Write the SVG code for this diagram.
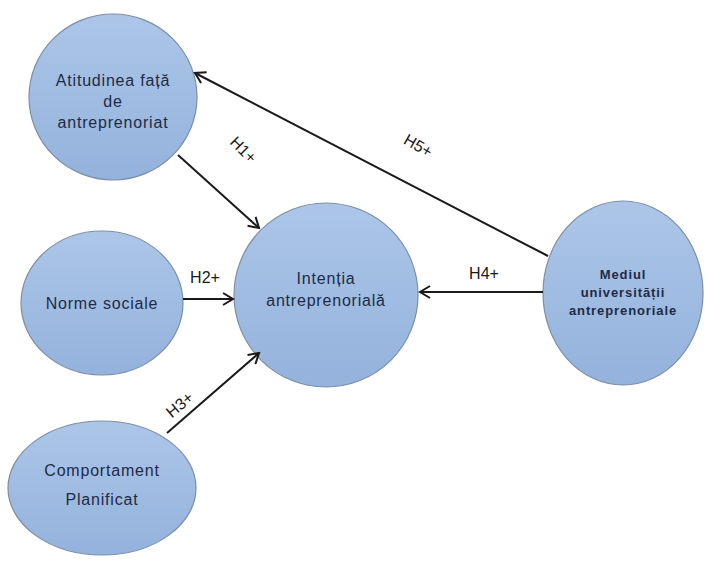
<svg xmlns="http://www.w3.org/2000/svg" width="705" height="566" viewBox="0 0 705 566">
<style>
.node ellipse{fill:url(#g);stroke:#7d8ea8;stroke-width:1.2}
.nt{font-family:"Liberation Sans",Arial,sans-serif;font-size:16px;letter-spacing:0.8px;fill:#1f2b45;text-anchor:middle}
.small{font-size:13px;letter-spacing:0.9px;font-weight:bold}
.conn line{stroke:#1a1a1a;stroke-width:2;marker-end:url(#arr)}
.lbl{font-family:"Liberation Sans",Arial,sans-serif;font-size:16px;fill:#1a1a1a;text-anchor:middle}
</style>
<defs>
<linearGradient id="g" x1="0" y1="0" x2="0" y2="1">
<stop offset="0" stop-color="#adc6e8"/>
<stop offset="1" stop-color="#93b2dc"/>
</linearGradient>
<marker id="arr" markerUnits="userSpaceOnUse" markerWidth="14" markerHeight="14" refX="12" refY="7" orient="auto" viewBox="0 0 14 14">
<path d="M2,1 L12,7 L2,13" fill="none" stroke="#1a1a1a" stroke-width="2"/>
</marker>
</defs>
<rect width="705" height="566" fill="#fff"/>
<g id="n-atitudinea" class="node">
<ellipse cx="113" cy="97" rx="84" ry="83"/>
<text class="nt" x="113" y="86">Atitudinea față</text>
<text class="nt" x="113" y="107">de</text>
<text class="nt" x="113" y="128">antreprenoriat</text>
</g>
<g id="n-norme" class="node">
<ellipse cx="102" cy="303" rx="81" ry="72"/>
<text class="nt" x="102" y="309">Norme sociale</text>
</g>
<g id="n-comportament" class="node">
<ellipse cx="102" cy="488" rx="94" ry="67"/>
<text class="nt" x="102" y="476">Comportament</text>
<text class="nt" x="102" y="505">Planificat</text>
</g>
<g id="n-intentia" class="node">
<ellipse cx="326" cy="295" rx="92" ry="92"/>
<text class="nt" x="326" y="284">Intenția</text>
<text class="nt" x="326" y="306">antreprenorială</text>
</g>
<g id="n-mediul" class="node">
<ellipse cx="623" cy="293" rx="80" ry="92"/>
<text class="nt small" x="623" y="279">Mediul</text>
<text class="nt small" x="623" y="297">universității</text>
<text class="nt small" x="623" y="315">antreprenoriale</text>
</g>
<g id="connectors" class="conn">
<line x1="178" y1="155" x2="259" y2="228"/>
<line x1="183" y1="299" x2="233" y2="299"/>
<line x1="167" y1="433" x2="259" y2="353"/>
<line x1="543" y1="292" x2="420" y2="292"/>
<line x1="548" y1="256" x2="195" y2="73"/>
</g>
<g id="labels">
<text class="lbl" transform="translate(243,150) rotate(45)" y="5">H1+</text>
<text class="lbl" x="205" y="283">H2+</text>
<text class="lbl" transform="translate(180,405) rotate(-40)" y="5">H3+</text>
<text class="lbl" x="484" y="279">H4+</text>
<text class="lbl" transform="translate(418,146) rotate(30)" y="5">H5+</text>
</g>
</svg>
